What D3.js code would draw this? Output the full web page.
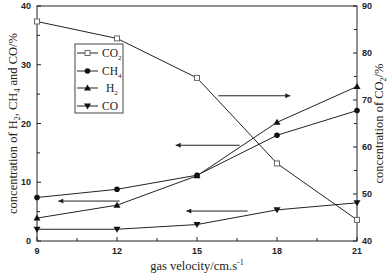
<!DOCTYPE html>
<html><head><meta charset="utf-8">
<script src="https://cdn.jsdelivr.net/npm/d3@7"></script>
<style>body{margin:0;background:#fff}svg{display:block}</style>
</head><body>
<svg id="c" width="392" height="276"></svg>
<script>
const velocity = [9, 12, 15, 18, 21];
const co2 = [86.7, 83.1, 74.7, 56.5, 44.5];
const ch4 = [7.4, 8.8, 11.2, 18.0, 22.2];
const h2 = [3.9, 6.1, 11.1, 20.2, 26.3];
const co = [2.0, 2.0, 2.8, 5.3, 6.5];
const xTicks = [9, 12, 15, 18, 21];
const leftTicks = [0, 10, 20, 30, 40];
const rightTicks = [40, 50, 60, 70, 80, 90];
const legendNames = ["CO2", "CH4", "H2", "CO"];
// arrows: [x1, x2(head), y, axis]
const arrows = [
  {from: 15.8, to: 18.5, y: 70.9, axis: "right"},
  {from: 16.6, to: 14.2, y: 16.3, axis: "left"},
  {from: 12.1, to: 9.8, y: 6.8, axis: "left"},
  {from: 16.9, to: 14.6, y: 5.1, axis: "left"}
];

const svg = d3.select("#c");
const L = 37, R = 357, T = 6, B = 241;
const x = d3.scaleLinear().domain([9, 21]).range([L, R]);
const yL = d3.scaleLinear().domain([0, 40]).range([B, T]);
const yR = d3.scaleLinear().domain([40, 90]).range([B, T]);
const ink = "#222";

svg.append("defs").append("marker").attr("id","ah").attr("viewBox","0 0 10 10")
  .attr("refX",10).attr("refY",5).attr("markerWidth",7).attr("markerHeight",5)
  .attr("orient","auto").attr("markerUnits","userSpaceOnUse")
  .append("path").attr("d","M0,0L10,5L0,10Z").attr("fill",ink);

// frame
svg.append("rect").attr("x",L).attr("y",T).attr("width",R-L).attr("height",B-T)
  .attr("fill","none").attr("stroke",ink).attr("stroke-width",1);

// ticks
const tf = "bold 9px 'Liberation Sans', Arial, sans-serif";
const gx = svg.append("g");
d3.range(9, 21.01, 1.5).forEach(v => {
  const major = xTicks.includes(v);
  gx.append("line").attr("x1",x(v)).attr("x2",x(v)).attr("y1",B).attr("y2",B-(major?4:3)).attr("stroke",ink);
});
xTicks.forEach(v => gx.append("text").attr("x",x(v)).attr("y",B+13).attr("text-anchor","middle")
  .style("font",tf).attr("fill",ink).text(v));
d3.range(0, 40.01, 5).forEach(v => {
  const major = leftTicks.includes(v);
  svg.append("line").attr("x1",L).attr("x2",L+(major?4:3)).attr("y1",yL(v)).attr("y2",yL(v)).attr("stroke",ink);
});
leftTicks.forEach(v => svg.append("text").attr("x",L-6).attr("y",yL(v)+3).attr("text-anchor","end")
  .style("font",tf).attr("fill",ink).text(v));
d3.range(40, 90.01, 5).forEach(v => {
  const major = rightTicks.includes(v);
  svg.append("line").attr("x1",R).attr("x2",R-(major?4:3)).attr("y1",yR(v)).attr("y2",yR(v)).attr("stroke",ink);
});
rightTicks.forEach(v => svg.append("text").attr("x",R+5).attr("y",yR(v)+3).attr("text-anchor","start")
  .style("font",tf).attr("fill",ink).text(v));

// titles
const serif = "'Liberation Serif', 'Times New Roman', serif";
const xt = svg.append("text").attr("x",(L+R)/2).attr("y",270).attr("text-anchor","middle")
  .style("font-family",serif).style("font-size","12.5px").attr("fill",ink);
xt.append("tspan").text("gas velocity/cm.s");
xt.append("tspan").attr("dy",-5).style("font-size","8px").text("-1");

const lt = svg.append("text").attr("transform",`translate(17,${(T+B)/2}) rotate(-90)`).attr("text-anchor","middle")
  .style("font-family",serif).style("font-size","12.5px").attr("fill",ink);
lt.append("tspan").text("concentration of H");
lt.append("tspan").attr("dy",3).style("font-size","8px").text("2");
lt.append("tspan").attr("dy",-3).text(", CH");
lt.append("tspan").attr("dy",3).style("font-size","8px").text("4");
lt.append("tspan").attr("dy",-3).text(" and CO/%");

const rt = svg.append("text").attr("transform",`translate(383,${(T+B)/2}) rotate(-90)`).attr("text-anchor","middle")
  .style("font-family",serif).style("font-size","12.5px").attr("fill",ink);
rt.append("tspan").text("concentration of CO");
rt.append("tspan").attr("dy",3).style("font-size","8px").text("2");
rt.append("tspan").attr("dy",-3).text("/%");

// series
const series = [
  {vals: co2, y: yR, sym: "square"},
  {vals: ch4, y: yL, sym: "circle"},
  {vals: h2, y: yL, sym: "up"},
  {vals: co, y: yL, sym: "down"}
];
function drawSym(g, sym, cx, cy) {
  if (sym === "square") g.append("rect").attr("x",cx-2.5).attr("y",cy-2.5).attr("width",5).attr("height",5)
    .attr("fill","#fff").attr("stroke","#666").attr("stroke-width",1);
  else if (sym === "circle") g.append("circle").attr("cx",cx).attr("cy",cy).attr("r",2.8).attr("fill","#111");
  else if (sym === "up") g.append("path").attr("d",`M${cx},${cy-3.5}L${cx+3.5},${cy+2.5}L${cx-3.5},${cy+2.5}Z`).attr("fill","#111");
  else g.append("path").attr("d",`M${cx},${cy+3.5}L${cx+3.5},${cy-2.5}L${cx-3.5},${cy-2.5}Z`).attr("fill","#111");
}
series.forEach(s => {
  const line = d3.line().x((d,i)=>x(velocity[i])).y(d=>s.y(d));
  svg.append("path").attr("d",line(s.vals)).attr("fill","none").attr("stroke",ink).attr("stroke-width",1);
});
series.forEach(s => {
  const g = svg.append("g");
  s.vals.forEach((v,i) => drawSym(g, s.sym, x(velocity[i]), s.y(v)));
});

// arrows
arrows.forEach(a => {
  const yy = (a.axis === "left" ? yL : yR)(a.y);
  svg.append("line").attr("x1",x(a.from)).attr("x2",x(a.to)).attr("y1",yy).attr("y2",yy)
    .attr("stroke",ink).attr("stroke-width",1).attr("marker-end","url(#ah)");
});

// legend
const lg = svg.append("g");
lg.append("rect").attr("x",75).attr("y",44).attr("width",48).attr("height",69)
  .attr("fill","#fff").attr("stroke","#444").attr("stroke-width",1);
const lys = [53, 71, 88, 106];
const subs = {"CO2":["CO","2"],"CH4":["CH","4"],"H2":["H","2"],"CO":["CO",""]};
legendNames.forEach((n,i) => {
  const yy = lys[i];
  lg.append("line").attr("x1",77).attr("x2",98).attr("y1",yy).attr("y2",yy).attr("stroke",ink);
  drawSym(lg, series[i].sym, 87.5, yy);
  const t = lg.append("text").attr("x", n==="H2"?106:102).attr("y",yy+4).style("font-family",serif)
    .style("font-size","11.5px").attr("fill",ink);
  t.append("tspan").text(subs[n][0]);
  if (subs[n][1]) t.append("tspan").attr("dy",3).style("font-size","7px").text(subs[n][1]);
});
</script>
</body></html>
